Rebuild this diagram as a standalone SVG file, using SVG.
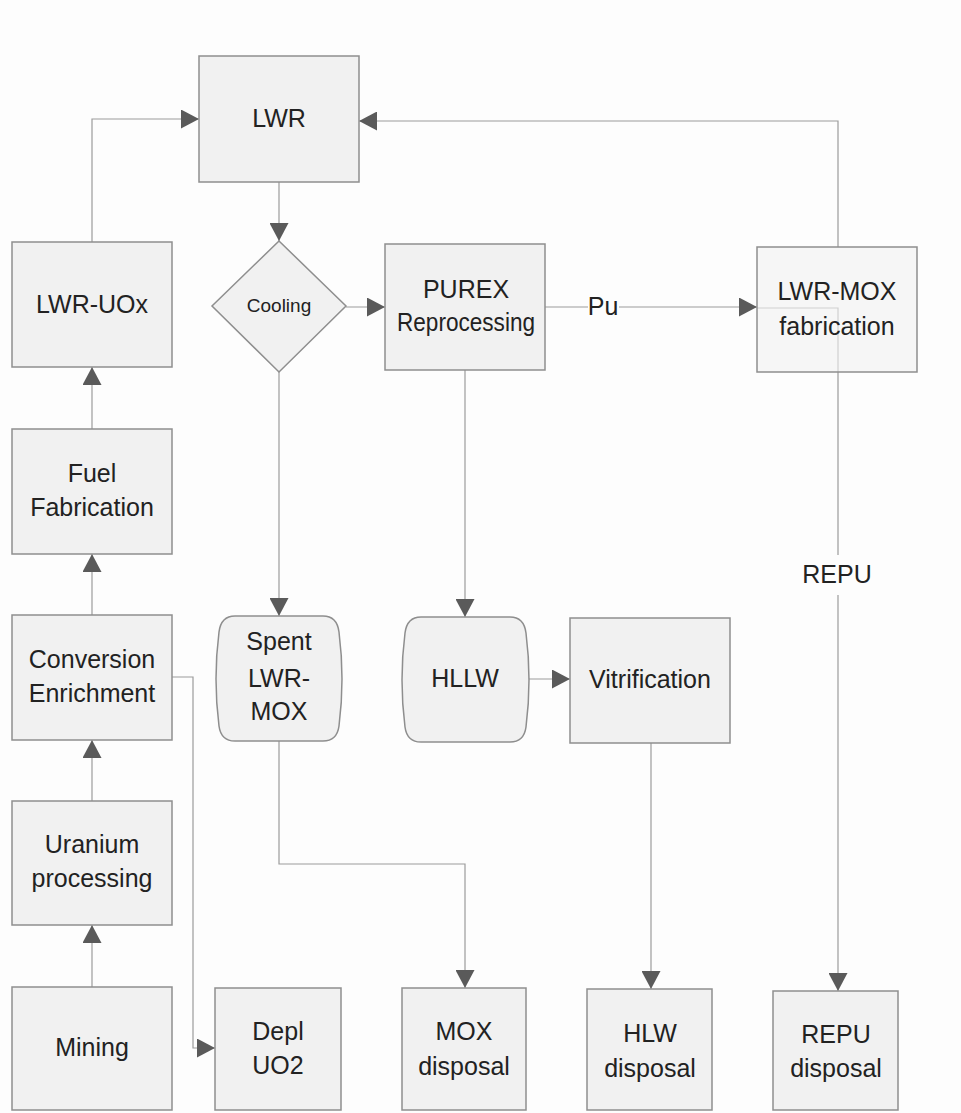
<svg xmlns="http://www.w3.org/2000/svg" width="961" height="1113" viewBox="0 0 961 1113">
  <style>
    .box { fill: #f1f1f1; stroke: #8e8e8e; stroke-width: 1.5; }
    .wire { fill: none; stroke: #9c9c9c; stroke-width: 1.2; }
    .lbl { font-family: "Liberation Sans", Arial, sans-serif; font-size: 25px; fill: #222222; text-anchor: middle; }
    .small { font-size: 19px; }
  </style>
  <defs>
    <marker id="arrow" markerUnits="userSpaceOnUse" markerWidth="19" markerHeight="19" refX="18" refY="9.5" orient="auto">
      <path d="M0,0 L18,9.5 L0,19 Z" fill="#5a5a5a"/>
    </marker>
  </defs>

  <rect width="961" height="1113" fill="#fdfdfd"/>

  <!-- connectors -->
  <g id="connectors">
    <path class="wire" d="M92,242 V119 H199" marker-end="url(#arrow)"/>
    <path class="wire" d="M838,247 V121 H359" marker-end="url(#arrow)"/>
    <path class="wire" d="M279,182 V241" marker-end="url(#arrow)"/>
    <path class="wire" d="M346,307 H385" marker-end="url(#arrow)"/>
    <path class="wire" d="M545,307 H588"/>
    <path class="wire" d="M619,307 H757" marker-end="url(#arrow)"/>
    <path class="wire" d="M757,308 H838 V555"/>
    <path class="wire" d="M838,595 V991" marker-end="url(#arrow)"/>
    <path class="wire" d="M279,372 V616" marker-end="url(#arrow)"/>
    <path class="wire" d="M465,370 V617" marker-end="url(#arrow)"/>
    <path class="wire" d="M527,679 H570" marker-end="url(#arrow)"/>
    <path class="wire" d="M651,743 V989" marker-end="url(#arrow)"/>
    <path class="wire" d="M279,741 V864 H465 V988" marker-end="url(#arrow)"/>
    <path class="wire" d="M172,677 H193 V1048 H215" marker-end="url(#arrow)"/>
    <path class="wire" d="M92,429 V367" marker-end="url(#arrow)"/>
    <path class="wire" d="M92,615 V554" marker-end="url(#arrow)"/>
    <path class="wire" d="M92,801 V740" marker-end="url(#arrow)"/>
    <path class="wire" d="M92,987 V925" marker-end="url(#arrow)"/>
    <text class="lbl" x="603" y="315">Pu</text>
    <text class="lbl" x="837" y="583">REPU</text>
  </g>

  <!-- nodes -->
  <g id="lwr">
    <rect class="box" x="199" y="56" width="160" height="126"/>
    <text class="lbl" x="279" y="127">LWR</text>
  </g>
  <g id="lwr-uox">
    <rect class="box" x="12" y="242" width="160" height="125"/>
    <text class="lbl" x="92" y="313">LWR-UOx</text>
  </g>
  <g id="fuel-fabrication">
    <rect class="box" x="12" y="429" width="160" height="125"/>
    <text class="lbl" x="92" y="482">Fuel</text>
    <text class="lbl" x="92" y="516">Fabrication</text>
  </g>
  <g id="conversion-enrichment">
    <rect class="box" x="12" y="615" width="160" height="125"/>
    <text class="lbl" x="92" y="668">Conversion</text>
    <text class="lbl" x="92" y="702">Enrichment</text>
  </g>
  <g id="uranium-processing">
    <rect class="box" x="12" y="801" width="160" height="124"/>
    <text class="lbl" x="92" y="853">Uranium</text>
    <text class="lbl" x="92" y="887">processing</text>
  </g>
  <g id="mining">
    <rect class="box" x="12" y="987" width="160" height="123"/>
    <text class="lbl" x="92" y="1056">Mining</text>
  </g>
  <g id="cooling">
    <polygon class="box" points="279,241 346,306 279,372 212,306"/>
    <text class="lbl small" x="279" y="312">Cooling</text>
  </g>
  <g id="purex">
    <rect class="box" x="385" y="244" width="160" height="126"/>
    <text class="lbl" x="466" y="298">PUREX</text>
    <text class="lbl" x="466" y="331" textLength="138" lengthAdjust="spacingAndGlyphs">Reprocessing</text>
  </g>
  <g id="lwr-mox-fabrication">
    <rect class="box" x="757" y="247" width="160" height="125" fill-opacity="0.6"/>
    <text class="lbl" x="837" y="300">LWR-MOX</text>
    <text class="lbl" x="837" y="335">fabrication</text>
  </g>
  <g id="spent-lwr-mox">
    <path class="box" d="M235,616 H323 Q337,616 339,632 Q345,679 339,726 Q337,741 323,741 H235 Q221,741 219,726 Q213,679 219,632 Q221,616 235,616 Z"/>
    <text class="lbl" x="279" y="650">Spent</text>
    <text class="lbl" x="279" y="687">LWR-</text>
    <text class="lbl" x="279" y="720">MOX</text>
  </g>
  <g id="hllw">
    <path class="box" d="M421,617 H510 Q524,617 526,633 Q532,680 526,727 Q524,742 510,742 H421 Q407,742 405,727 Q399,680 405,633 Q407,617 421,617 Z"/>
    <text class="lbl" x="465" y="687">HLLW</text>
  </g>
  <g id="vitrification">
    <rect class="box" x="570" y="618" width="160" height="125"/>
    <text class="lbl" x="650" y="688">Vitrification</text>
  </g>
  <g id="depl-uo2">
    <rect class="box" x="215" y="988" width="126" height="122"/>
    <text class="lbl" x="278" y="1040">Depl</text>
    <text class="lbl" x="278" y="1074">UO2</text>
  </g>
  <g id="mox-disposal">
    <rect class="box" x="402" y="988" width="124" height="122"/>
    <text class="lbl" x="464" y="1040">MOX</text>
    <text class="lbl" x="464" y="1075">disposal</text>
  </g>
  <g id="hlw-disposal">
    <rect class="box" x="587" y="989" width="125" height="121"/>
    <text class="lbl" x="650" y="1042">HLW</text>
    <text class="lbl" x="650" y="1077">disposal</text>
  </g>
  <g id="repu-disposal">
    <rect class="box" x="773" y="991" width="125" height="119"/>
    <text class="lbl" x="836" y="1043">REPU</text>
    <text class="lbl" x="836" y="1077">disposal</text>
  </g>
</svg>
